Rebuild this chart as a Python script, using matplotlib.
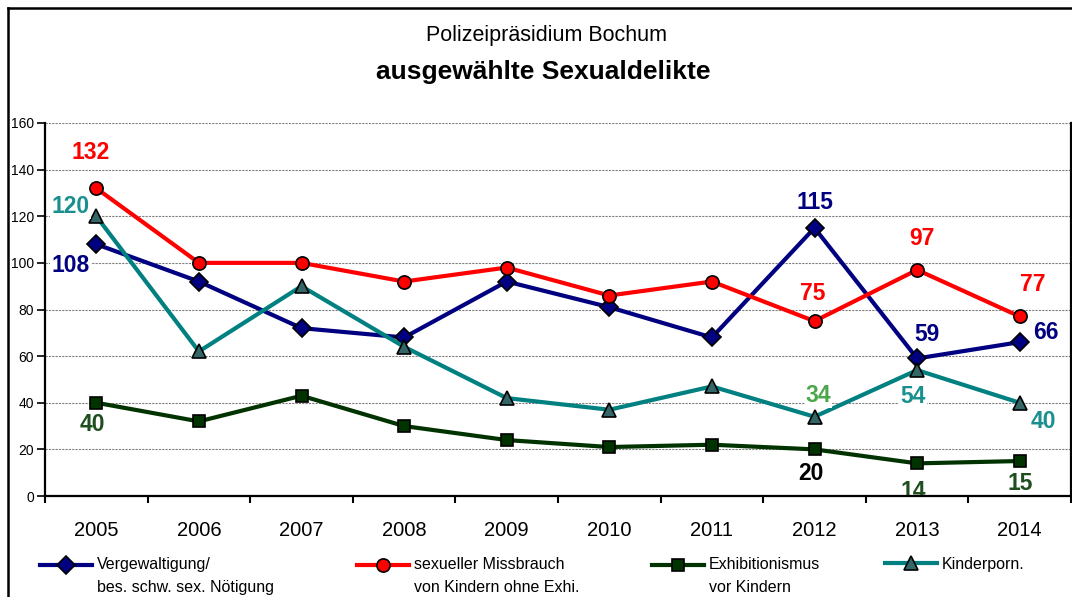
import matplotlib
matplotlib.use("Agg")
import matplotlib.pyplot as plt
from matplotlib.lines import Line2D
from matplotlib.legend_handler import HandlerLine2D

plt.rcParams['font.family'] = ['Liberation Sans', 'DejaVu Sans']

years = ['2005', '2006', '2007', '2008', '2009', '2010', '2011', '2012', '2013', '2014']
vergewaltigung = [108, 92, 72, 68, 92, 81, 68, 115, 59, 66]
missbrauch = [132, 100, 100, 92, 98, 86, 92, 75, 97, 77]
exhibitionismus = [40, 32, 43, 30, 24, 21, 22, 20, 14, 15]
kinderporn = [120, 62, 90, 64, 42, 37, 47, 34, 54, 40]

series_names = ['Vergewaltigung/\nbes. schw. sex. Nötigung',
                'sexueller Missbrauch\nvon Kindern ohne Exhi.',
                'Exhibitionismus\nvor Kindern',
                'Kinderporn.']

yticks = [0, 20, 40, 60, 80, 100, 120, 140, 160]

W, H = 1072, 597
fig = plt.figure(figsize=(W/100, H/100), dpi=100)
ax = fig.add_axes([45/W, 1-496/H, (1071-45)/W, (496-123)/H])

x = list(range(len(years)))
styles = [
    dict(data=vergewaltigung, color='#000080', marker='D', mfc='#000080', ms=9),
    dict(data=missbrauch, color='#FF0000', marker='o', mfc='#FF0000', ms=9.5),
    dict(data=exhibitionismus, color='#003300', marker='s', mfc='#003300', ms=8.5),
    dict(data=kinderporn, color='#008080', marker='^', mfc='#336666', ms=10.5),
]
handles = []
for st, name in zip(styles, series_names):
    h, = ax.plot(x, st['data'], color=st['color'], lw=3, marker=st['marker'],
                 ms=st['ms'], mfc=st['mfc'], mec='black', mew=1.2, zorder=3,
                 label=name)
    handles.append(h)

# data labels: (series, index, dx px, dy px, color)
labels = [
    (missbrauch, 0, -6, 36, '#FF0000'),
    (kinderporn, 0, -26, 10, '#1A8F8F'),
    (vergewaltigung, 0, -26, -21, '#000080'),
    (exhibitionismus, 0, -4, -22, '#1F4F1F'),
    (vergewaltigung, 7, 0, 25, '#000080'),
    (missbrauch, 7, -2, 28, '#FF0000'),
    (kinderporn, 7, 4, 21, '#4CA64C'),
    (exhibitionismus, 7, -4, -24, '#000000'),
    (missbrauch, 8, 5, 31, '#FF0000'),
    (vergewaltigung, 8, 10, 24, '#000080'),
    (kinderporn, 8, -4, -26, '#1A8F8F'),
    (exhibitionismus, 8, -4, -28, '#1F4F1F'),
    (missbrauch, 9, 13, 32, '#FF0000'),
    (vergewaltigung, 9, 26, 10, '#000080'),
    (kinderporn, 9, 24, -19, '#1A8F8F'),
    (exhibitionismus, 9, 0, -22, '#1F4F1F'),
]
for ser, i, dx, dy, col in labels:
    ax.annotate(str(ser[i]), xy=(i, ser[i]), xytext=(dx*0.72, dy*0.72),
                textcoords='offset points', ha='center', va='center',
                fontsize=16.5, fontweight='bold', color=col, zorder=5,
                annotation_clip=False, clip_on=True,
                bbox=dict(boxstyle='square,pad=0.05', fc='white', ec='none'))

ax.set_xlim(-0.5, 9.5)
ax.set_ylim(0, 160)
ax.set_yticks(yticks)
ax.set_yticklabels([str(t) for t in yticks], fontsize=10)
ax.set_xticks([i - 0.5 for i in range(len(years) + 1)])
ax.set_xticklabels([])
ax.set_xticks(x, minor=True)
ax.set_xticklabels(years, minor=True, fontsize=14.5)
ax.tick_params(axis='x', which='major', direction='out', length=5, width=1.5)
ax.tick_params(axis='x', which='minor', length=0, pad=18)
ax.tick_params(axis='y', direction='out', length=6, width=1.2, pad=2)
ax.grid(axis='y', color='#808080', ls=(0, (2, 1)), lw=0.8, zorder=0)
ax.spines['top'].set_visible(False)
for s in ['left', 'bottom', 'right']:
    ax.spines[s].set_linewidth(1.6)
    ax.spines[s].set_color('black')
    ax.spines[s].set_zorder(6)

fig.text(546/W, 1-35/H, 'Polizeipräsidium Bochum', ha='center', va='center',
         fontsize=15.5)
fig.text(543/W, 1-72/H, 'ausgewählte Sexualdelikte', ha='center', va='center',
         fontsize=19, fontweight='bold')

# outer chart frame
fig.add_artist(Line2D([8/W, 8/W], [0, 1-8/H], color='black', lw=1.8,
                      transform=fig.transFigure))
fig.add_artist(Line2D([8/W, 1], [1-8/H, 1-8/H], color='black', lw=1.8,
                      transform=fig.transFigure))


class TopHandler(HandlerLine2D):
    def __init__(self, shift=0, **kw):
        super().__init__(**kw)
        self.shift = shift

    def create_artists(self, legend, orig_handle, xdescent, ydescent, width,
                       height, fontsize, trans):
        return super().create_artists(legend, orig_handle, xdescent,
                                      ydescent - 2 * self.shift, width, height,
                                      fontsize, trans)


leg_x = [40, 357, 652, 885]
for h, name, lx in zip(handles, series_names, leg_x):
    nlines = name.count('\n') + 1
    shift = 11 * 0.72 * (nlines - 1)
    leg = fig.legend(handles=[h], loc='upper left',
                     bbox_to_anchor=(lx/W, 1-557/H), frameon=False, fontsize=11.5,
                     handlelength=3.25, handletextpad=0.3, borderaxespad=0,
                     borderpad=0, handler_map={h: TopHandler(shift=shift)})
    for t in leg.get_texts():
        t.set_linespacing(1.65)

fig.savefig('out.png', dpi=100)
